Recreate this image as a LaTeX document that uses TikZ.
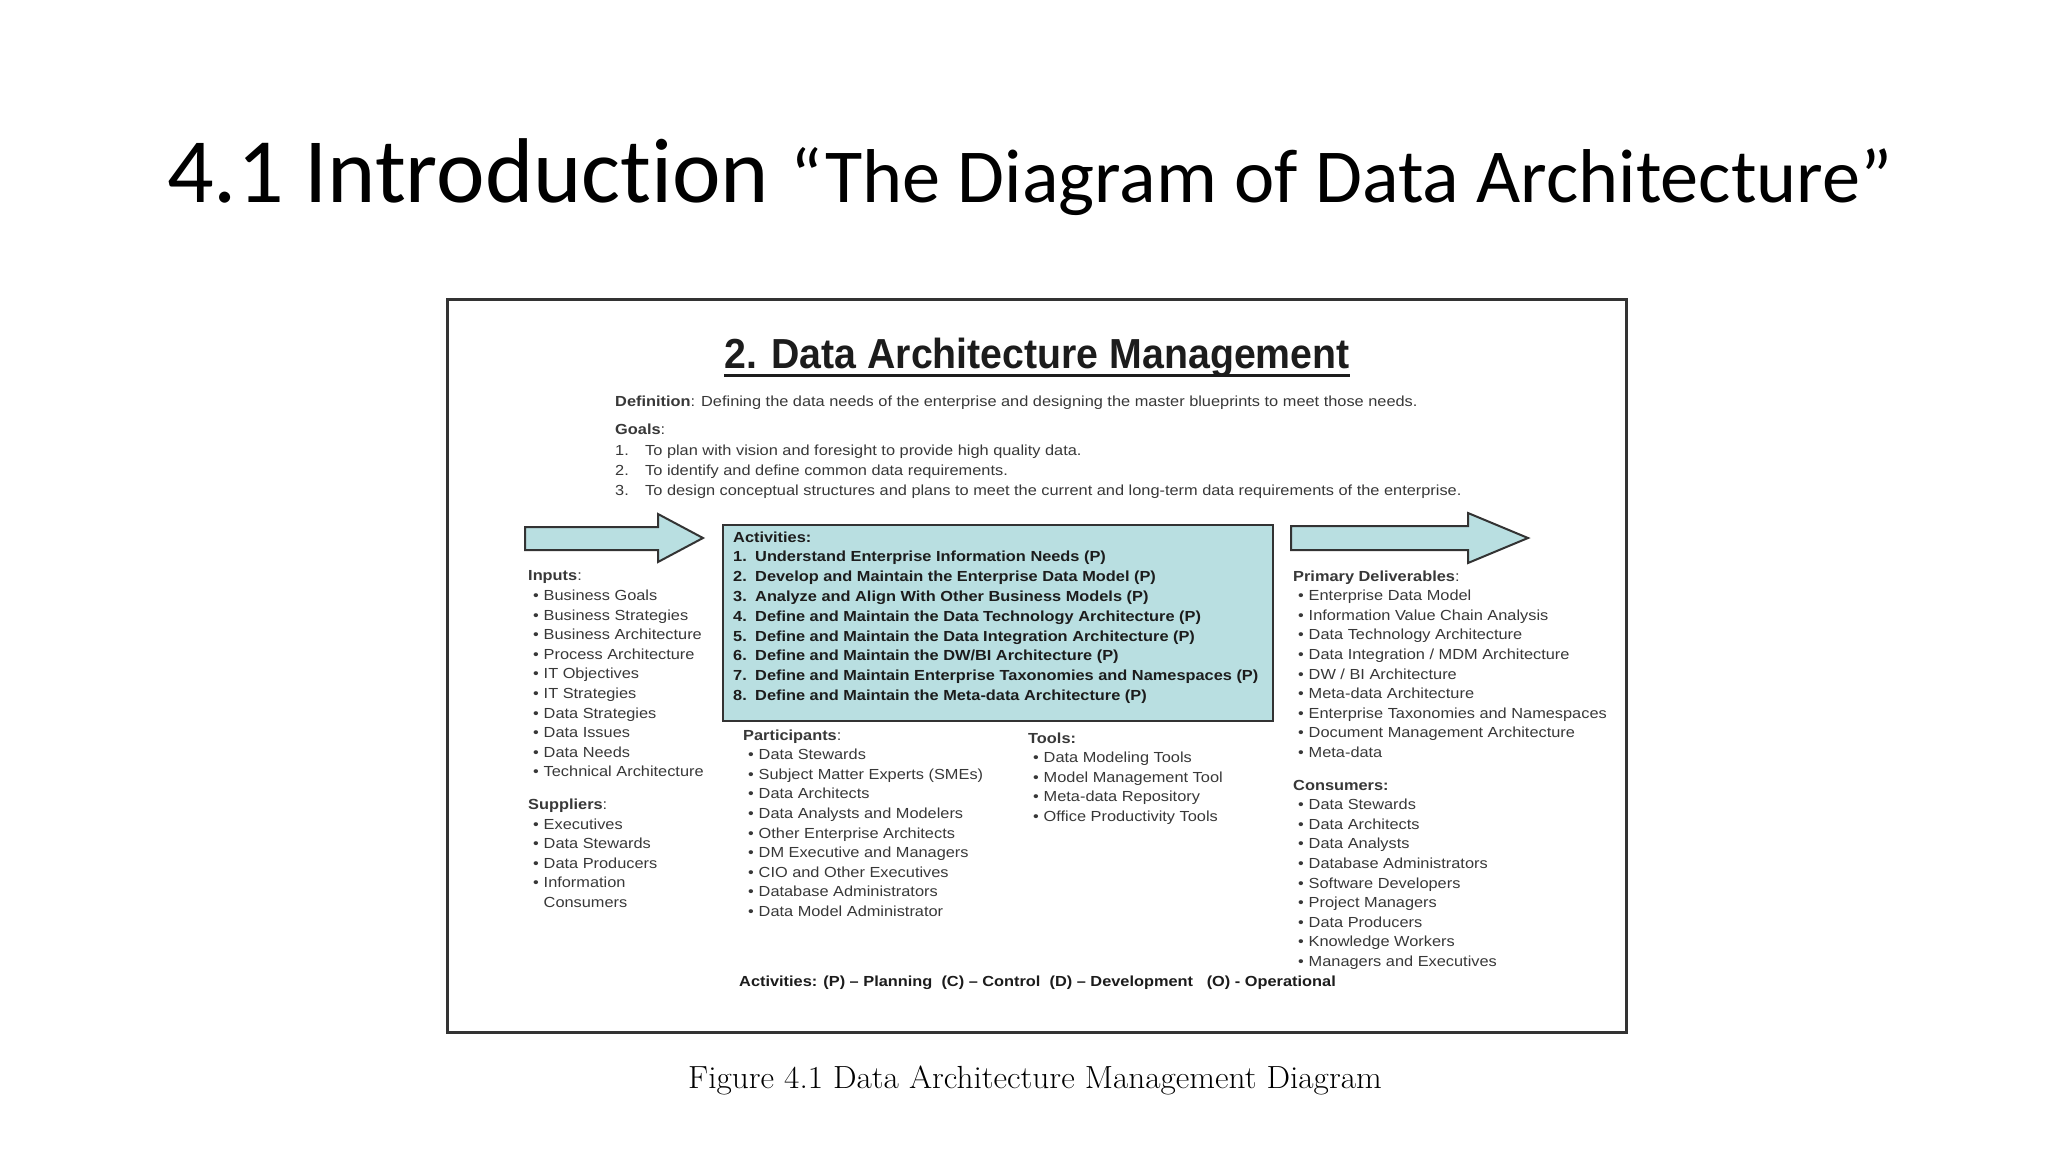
\documentclass[tikz,border=0pt]{standalone}
\usepackage{fontspec}
\newfontfamily\slidefont[Ligatures=NoCommon]{Carlito}
\newfontfamily\docfont[FakeStretch=1.12]{Liberation Sans}
\newfontfamily\headfont[FakeStretch=0.935]{Liberation Sans}
\newfontfamily\capfont[FakeStretch=1.04]{Latin Modern Roman}
\usetikzlibrary{positioning}

\definecolor{boxfill}{HTML}{B9DFE1}
\definecolor{inkline}{HTML}{333333}
\definecolor{inktext}{HTML}{383838}
\definecolor{inkbold}{HTML}{1C1C1C}

\newcommand{\bul}{\hspace*{5pt}\makebox[10.5pt][l]{\textbullet}}
\newcommand{\goalnum}[1]{\makebox[30pt][l]{#1}}
\newcommand{\actnum}[1]{\makebox[22pt][l]{#1}}

\tikzset{
	listtext/.style={anchor=base west, align=left, inner sep=0pt, text=inktext,
		font=\docfont\fontsize{14.6}{19.6}\selectfont},
	acttext/.style={anchor=base west, align=left, inner sep=0pt, text=inkbold,
		font=\docfont\bfseries\fontsize{14.6}{19.8}\selectfont},
	actbox/.style={draw=inkline, line width=2pt, fill=boxfill, anchor=north west, inner sep=0pt},
	sheet/.style={draw=inkline, line width=2.5pt, anchor=north west, inner sep=0pt},
	bigarrow/.style={draw=inkline, line width=2pt, fill=boxfill, line join=miter},
}

\begin{document}
\begin{tikzpicture}[x=1pt, y=-1pt]
	\fill[white] (0,0) rectangle (2048,1152);
	\useasboundingbox (0,0) rectangle (2048,1152);

	\node[anchor=base west, inner sep=0pt, font=\slidefont, text=black] (slidetitle) at (167, 202)
		{\fontsize{92}{100}\selectfont 4.1 Introduction {\fontsize{76.3}{90}\selectfont “The Diagram of Data Architecture”}};

	\node[sheet, minimum width=1179pt, minimum height=733pt] (sheet) at (446, 298) {};

	\node[anchor=base, inner sep=0pt, text=inkbold, font=\headfont\bfseries\fontsize{42}{50}\selectfont] (damtitle) at (1037, 368)
		{2. Data Architecture Management};
	\draw[line width=3pt, inkbold] ([yshift=-7pt]damtitle.base west) -- ([yshift=-7pt]damtitle.base east);

	% multi-line nodes sit on the baseline of their last line
	\node[listtext] (definition) at (615, 406)
		{\textbf{Definition}: Defining the data needs of the enterprise and designing the master blueprints to meet those needs.};
	\node[listtext] (goals) at (615, 495)
		{\textbf{Goals}:\\[1.5pt]
		\goalnum{1.}To plan with vision and foresight to provide high quality data.\\
		\goalnum{2.}To identify and define common data requirements.\\
		\goalnum{3.}To design conceptual structures and plans to meet the current and long-term data requirements of the enterprise.};

	\draw[bigarrow] (525, 527) -- (658, 527) -- (658, 514) -- (703, 538) -- (658, 562) -- (658, 550) -- (525, 550) -- cycle;
	\draw[bigarrow] (1291, 526) -- (1468, 526) -- (1468, 513) -- (1528, 538) -- (1468, 563) -- (1468, 550) -- (1291, 550) -- cycle;

	\node[actbox, minimum width=550pt, minimum height=196pt] (actbox) at (722, 524) {};
	\node[acttext] (activities) at (733, 700.5)
		{Activities:\\
		\actnum{1.}Understand Enterprise Information Needs (P)\\
		\actnum{2.}Develop and Maintain the Enterprise Data Model (P)\\
		\actnum{3.}Analyze and Align With Other Business Models (P)\\
		\actnum{4.}Define and Maintain the Data Technology Architecture (P)\\
		\actnum{5.}Define and Maintain the Data Integration Architecture (P)\\
		\actnum{6.}Define and Maintain the DW/BI Architecture (P)\\
		\actnum{7.}Define and Maintain Enterprise Taxonomies and Namespaces (P)\\
		\actnum{8.}Define and Maintain the Meta-data Architecture (P)};

	\node[listtext] (inputs) at (528, 907.5)
		{\textbf{Inputs}:\\
		\bul Business Goals\\
		\bul Business Strategies\\
		\bul Business Architecture\\
		\bul Process Architecture\\
		\bul IT Objectives\\
		\bul IT Strategies\\
		\bul Data Strategies\\
		\bul Data Issues\\
		\bul Data Needs\\
		\bul Technical Architecture\\[13pt]
		\textbf{Suppliers}:\\
		\bul Executives\\
		\bul Data Stewards\\
		\bul Data Producers\\
		\bul Information\\
		\hspace*{15.5pt}Consumers};

	\node[listtext] (participants) at (743, 916.5)
		{\textbf{Participants}:\\
		\bul Data Stewards\\
		\bul Subject Matter Experts (SMEs)\\
		\bul Data Architects\\
		\bul Data Analysts and Modelers\\
		\bul Other Enterprise Architects\\
		\bul DM Executive and Managers\\
		\bul CIO and Other Executives\\
		\bul Database Administrators\\
		\bul Data Model Administrator};

	\node[listtext] (tools) at (1028, 821.5)
		{\textbf{Tools:}\\
		\bul Data Modeling Tools\\
		\bul Model Management Tool\\
		\bul Meta-data Repository\\
		\bul Office Productivity Tools};

	\node[listtext] (deliverables) at (1293, 966.5)
		{\textbf{Primary Deliverables}:\\
		\bul Enterprise Data Model\\
		\bul Information Value Chain Analysis\\
		\bul Data Technology Architecture\\
		\bul Data Integration / MDM Architecture\\
		\bul DW / BI Architecture\\
		\bul Meta-data Architecture\\
		\bul Enterprise Taxonomies and Namespaces\\
		\bul Document Management Architecture\\
		\bul Meta-data\\[13pt]
		\textbf{Consumers:}\\
		\bul Data Stewards\\
		\bul Data Architects\\
		\bul Data Analysts\\
		\bul Database Administrators\\
		\bul Software Developers\\
		\bul Project Managers\\
		\bul Data Producers\\
		\bul Knowledge Workers\\
		\bul Managers and Executives};

	\node[acttext] (legend) at (739, 986)
		{Activities: (P) – Planning\ \ (C) – Control\ \ (D) – Development\ \ \ (O) - Operational};

	\node[anchor=base, inner sep=0pt, text=black, font=\capfont\fontsize{32}{38}\selectfont] (caption) at (1035, 1088)
		{Figure 4.1 Data Architecture Management Diagram};
\end{tikzpicture}
\end{document}
